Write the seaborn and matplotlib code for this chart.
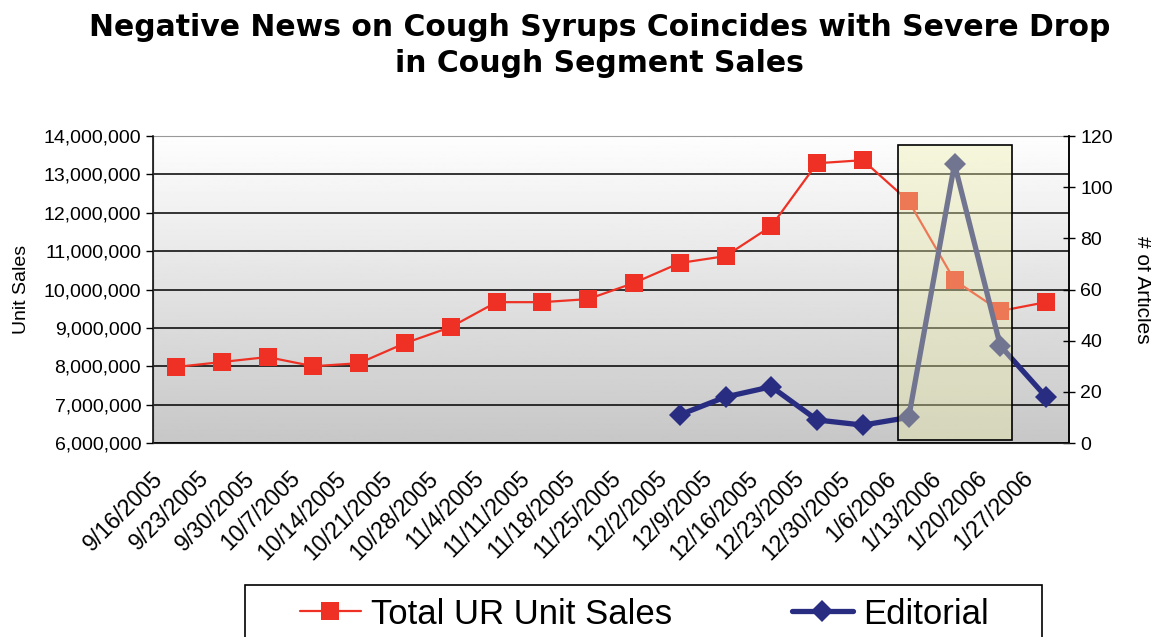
import matplotlib.pyplot as plt
import matplotlib.ticker as mticker
from matplotlib.patches import Rectangle
import numpy as np
import pandas as pd
import seaborn as sns

# weekly data
weeks = ['9/16/2005', '9/23/2005', '9/30/2005', '10/7/2005', '10/14/2005',
         '10/21/2005', '10/28/2005', '11/4/2005', '11/11/2005', '11/18/2005',
         '11/25/2005', '12/2/2005', '12/9/2005', '12/16/2005', '12/23/2005',
         '12/30/2005', '1/6/2006', '1/13/2006', '1/20/2006', '1/27/2006']
unit_sales = [7.98e6, 8.11e6, 8.24e6, 8.00e6, 8.08e6,
              8.60e6, 9.02e6, 9.67e6, 9.67e6, 9.75e6,
              10.17e6, 10.69e6, 10.87e6, 11.65e6, 13.29e6,
              13.37e6, 12.30e6, 10.24e6, 9.44e6, 9.67e6]
editorial = [np.nan] * 11 + [11, 18, 22, 9, 7, 10, 109, 38, 18]
highlight_weeks = ['1/6/2006', '1/20/2006']

df = pd.DataFrame({'week': weeks, 'sales': unit_sales, 'articles': editorial})
df['pos'] = np.arange(len(df))

sns.set_style('white')
plt.rcParams['font.family'] = ['Liberation Sans', 'DejaVu Sans']
plt.rcParams['text.color'] = 'black'
plt.rcParams['axes.labelcolor'] = 'black'
plt.rcParams['xtick.color'] = 'black'
plt.rcParams['ytick.color'] = 'black'

red = '#EE3124'
navy = '#282D82'

fig = plt.figure(figsize=(11.51, 6.37), dpi=100)
ax = fig.add_axes([153 / 1151, 194 / 637, 916 / 1151, 307 / 637])

# grey gradient behind the plot
grad = np.linspace(0.995, 0.78, 256).reshape(-1, 1)
ax.imshow(grad, cmap='gray', vmin=0, vmax=1, aspect='auto',
          extent=[0, 1, 0, 1], transform=ax.transAxes, zorder=0)

sns.lineplot(data=df, x='pos', y='sales', ax=ax, color=red, marker='s',
             markersize=13, markeredgewidth=0, linewidth=1.6,
             label='Total UR Unit Sales', legend=False, zorder=3)

ax.set_xlim(-0.5, len(weeks) - 0.5)
ax.set_ylim(6e6, 14e6)
ax.set_yticks(np.arange(6e6, 14e6 + 1, 1e6))
ax.yaxis.set_major_formatter(mticker.FuncFormatter(lambda v, p: f'{v:,.0f}'))
ax.yaxis.grid(True, color='black', lw=1.1)
ax.yaxis.get_gridlines()[-1].set_visible(False)

ax.set_xticks(np.arange(len(weeks) + 1) - 0.5, minor=True)
ax.set_xticks(df['pos'] - 0.36)
ax.set_xticklabels(weeks, rotation=45, ha='right', va='center',
                   rotation_mode='anchor', fontsize=16.5)
ax.tick_params(axis='x', which='major', length=0, pad=23)
ax.tick_params(axis='x', which='minor', length=7, width=1, color='black', direction='out')
ax.tick_params(axis='y', length=5, width=1, color='black', direction='out', labelsize=14)
ax.set_xlabel('')
ax.set_ylabel('Unit Sales', fontsize=14, labelpad=10)

for s in ['left', 'bottom', 'right']:
    ax.spines[s].set_color('black')
    ax.spines[s].set_linewidth(1.1)
ax.spines['top'].set_color('#999999')

ax2 = ax.twinx()
sns.lineplot(data=df, x='pos', y='articles', ax=ax2, color=navy, marker='D',
             markersize=11, markeredgewidth=0, linewidth=3.8,
             label='Editorial', legend=False, zorder=3)
ax2.set_ylim(0, 120)
ax2.set_yticks(np.arange(0, 121, 20))
ax2.tick_params(axis='y', length=9, width=1, color='black', direction='inout', labelsize=14)
for val, tick in zip(ax2.get_yticks(), ax2.yaxis.get_major_ticks()):
    if val in (20, 100):
        tick.tick2line.set_color('red')
ax2.set_ylabel('# of Articles', rotation=270, fontsize=15, labelpad=28)
ax2.spines['right'].set_color('black')
ax2.spines['right'].set_linewidth(1.1)
ax2.spines['top'].set_visible(False)

# translucent highlight box around the spike
i0 = weeks.index(highlight_weeks[0])
i1 = weeks.index(highlight_weeks[1])
ax2.add_patch(Rectangle((i0 - 0.24, 1), (i1 - i0) + 0.5, 115.5,
                        facecolor=(0.93, 0.93, 0.66, 0.38), edgecolor='black',
                        lw=1.2, zorder=5))

fig.text(0.521, 0.98, 'Negative News on Cough Syrups Coincides with Severe Drop\nin Cough Segment Sales',
         ha='center', va='top', fontsize=21.5, fontweight='bold',
         family='DejaVu Sans', linespacing=1.3)

h1, l1 = ax.get_legend_handles_labels()
h2, l2 = ax2.get_legend_handles_labels()
fig.legend(h1 + h2, l1 + l2, loc='center left', bbox_to_anchor=(300 / 1151, 1 - 614 / 637),
           ncols=2, frameon=False, fontsize=25, handlelength=1.75,
           handletextpad=0.3, columnspacing=3.45, borderpad=0, borderaxespad=0)
fig.add_artist(Rectangle((245 / 1151, -0.05), 797 / 1151, 0.05 + 52 / 637,
                         transform=fig.transFigure, fill=False,
                         edgecolor='black', lw=1.2))

fig.savefig('out.png', dpi=100)
